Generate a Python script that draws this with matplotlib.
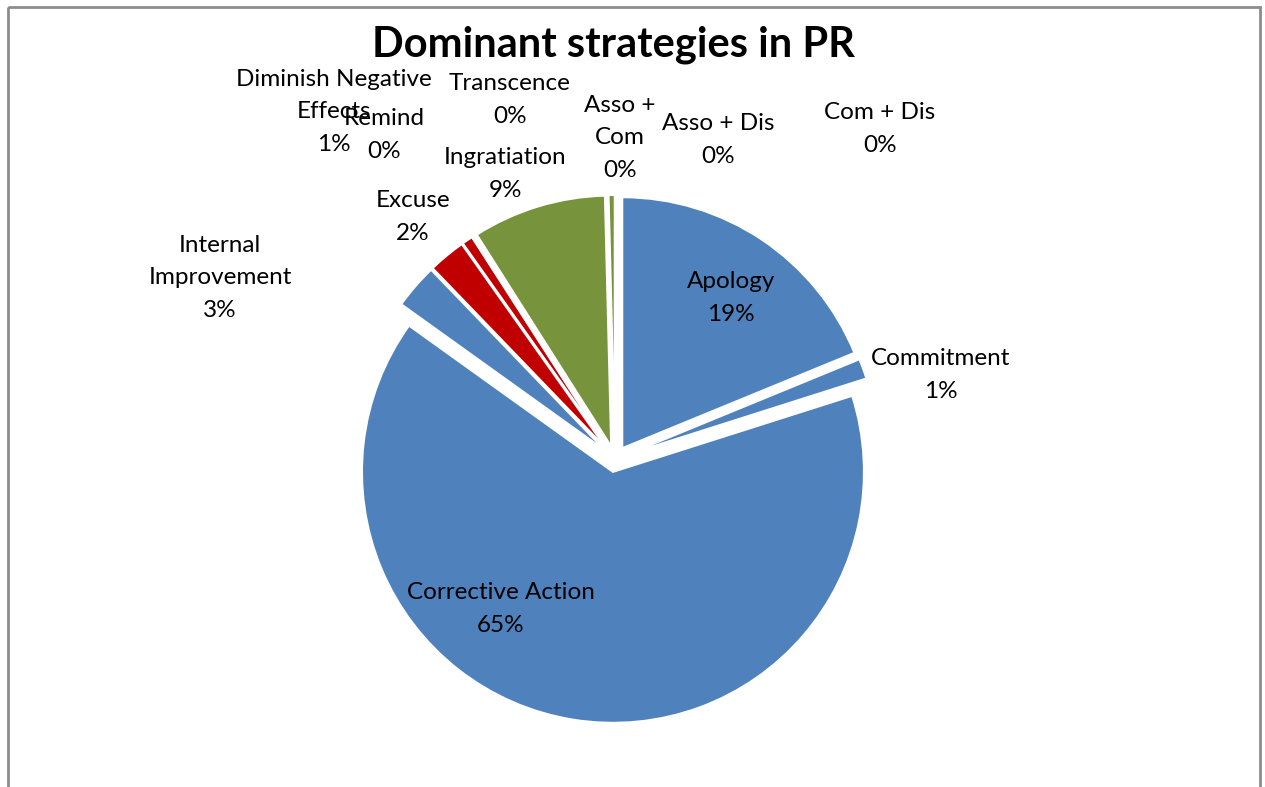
import matplotlib
matplotlib.use("Agg")
import matplotlib.pyplot as plt
from matplotlib.patches import Rectangle

plt.rcParams['font.family'] = ['Lato', 'DejaVu Sans']

# share of each strategy (percent), clockwise from 12 o'clock
categories = ["Apology", "Commitment", "Corrective Action", "Internal Improvement",
              "Excuse", "Diminish Negative Effects", "Remind", "Ingratiation",
              "Transcence", "Asso + Com", "Asso + Dis", "Com + Dis"]
values = [18.8, 1.3, 64.8, 2.9, 2.4, 0.7, 0.1, 8.6, 0.0, 0.4, 0.0, 0.0]

blue = "#4F81BD"
red = "#C00000"
green = "#77933C"
colors = [blue, blue, blue, blue, red, red, red, green, green, green, green, green]

# how the labels wrap in the original
wrapped = {"Internal Improvement": "Internal\nImprovement",
           "Diminish Negative Effects": "Diminish Negative\nEffects",
           "Asso + Com": "Asso +\nCom"}
# label centres in pixels
label_pos = [(731, 298), (941, 375), (501, 609), (220, 278), (413, 217), (334, 112),
             (384, 135), (505, 174), (510, 100), (620, 138), (718, 140), (880, 129)]

W, H = 1265, 787
fig = plt.figure(figsize=(W / 100, H / 100), dpi=100)
ax = fig.add_axes([0, 0, 1, 1])

ax.pie(values, colors=colors, startangle=270, counterclock=True,
       radius=251, center=(615, 459), explode=[13] * len(values),
       wedgeprops=dict(edgecolor="white", linewidth=1.5))

ax.set_xlim(0, W)
ax.set_ylim(H, 0)
ax.set_aspect("equal")
ax.axis("off")

# chart frame
ax.add_patch(Rectangle((7.5, 6.5), 1252.5, 820, fill=False,
                       edgecolor="#8c8c8c", linewidth=2, clip_on=True))

for name, v, (x, y) in zip(categories, values, label_pos):
    txt = wrapped.get(name, name) + "\n" + f"{round(v)}%"
    ax.text(x, y, txt, ha="center", va="center", fontsize=17.5,
            linespacing=1.65, color="black")

ax.text(613, 56, "Dominant strategies in PR", ha="center", va="baseline",
        fontsize=30, fontweight="bold")

fig.savefig("out.png", dpi=100)
